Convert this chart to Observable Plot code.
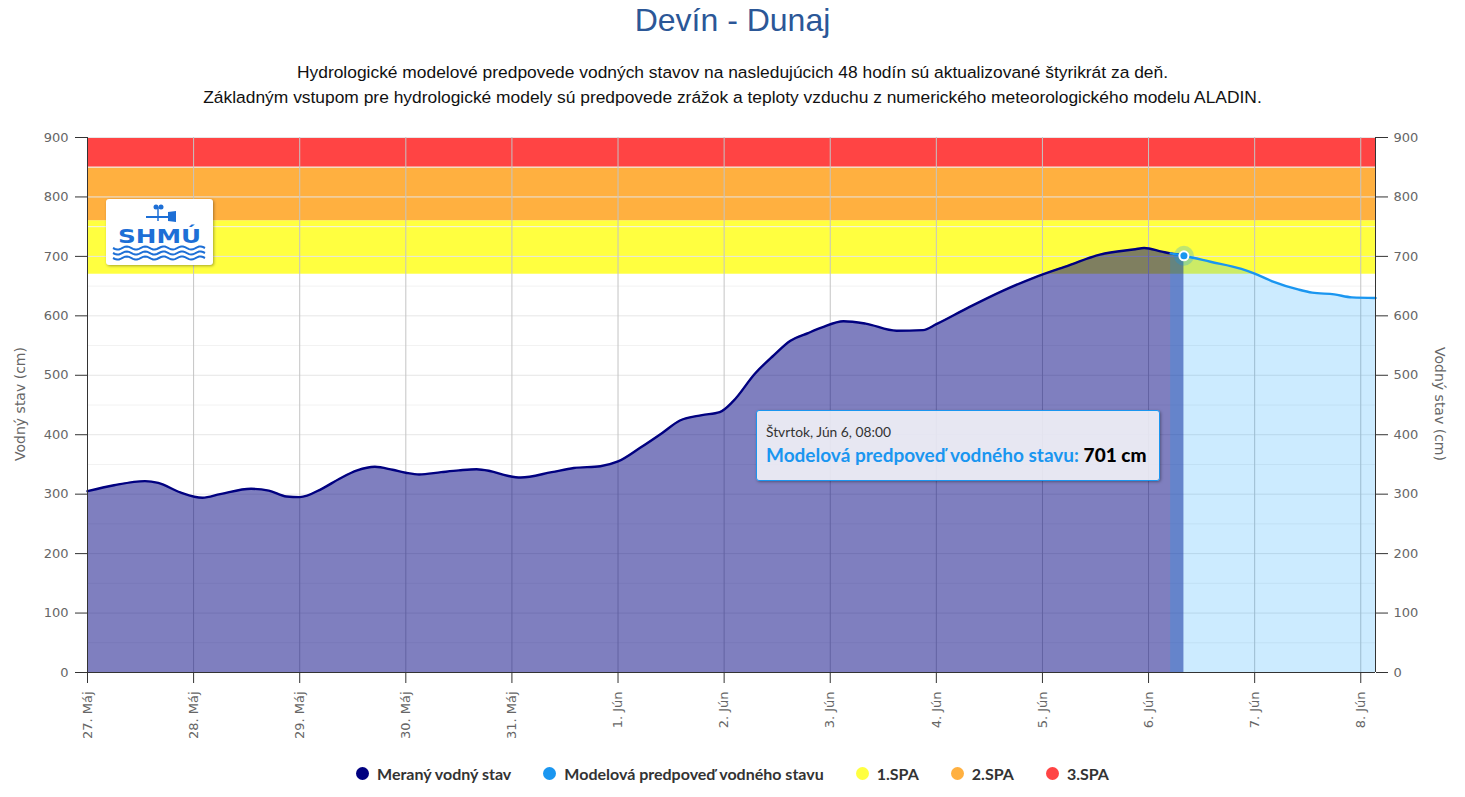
<!DOCTYPE html>
<html>
<head>
<meta charset="utf-8">
<script src="https://cdn.jsdelivr.net/npm/d3@7"></script>
<script src="https://cdn.jsdelivr.net/npm/@observablehq/plot@0.6"></script>
<style>
  html, body { margin: 0; padding: 0; background: #fff; }
  #wrap { position: relative; width: 1465px; height: 797px; overflow: hidden; }
  #title { position: absolute; left: 0; top: 0; width: 1465px; height: 40px; line-height: 40px; text-align: center;
           font-family: "Liberation Sans", Arial, sans-serif; font-size: 32px; color: #2b5797; }
  #subtitle { position: absolute; left: 0; top: 60px; width: 1465px; text-align: center; line-height: 25px;
           font-family: "Liberation Sans", Arial, sans-serif; font-size: 17.4px; color: #111; }
  #chart { position: absolute; left: 0; top: 120px; }
  #chart svg g[aria-label="x-axis tick"], #chart svg g[aria-label="y-axis tick"] { stroke: #333; }
  .ytitle { position: absolute; font-family: "DejaVu Sans", sans-serif; font-size: 14px; color: #666; white-space: nowrap; }
  #legend { position: absolute; left: 0; top: 761px; width: 1465px; height: 24px; display: flex; justify-content: center; align-items: center;
            font-family: "Lato", sans-serif; font-weight: bold; font-size: 16px; color: #333; }
  .li { display: flex; align-items: center; margin: 0 16px; }
  .sw { width: 13px; height: 13px; border-radius: 50%; margin-right: 8px; }
  #tooltip { position: absolute; left: 756px; top: 410px; width: 404px; height: 71px; box-sizing: border-box;
             background: rgba(248,248,250,0.86); border: 1px solid #1a96f0; border-radius: 3px;
             box-shadow: 1px 1px 3px rgba(0,0,0,0.35); font-family: "Lato", sans-serif; }
  #tt1 { position: absolute; left: 9px; top: 12px; font-size: 13.8px; color: #333; }
  #tt2 { position: absolute; left: 9px; top: 32px; font-size: 19px; font-weight: bold; color: #1a96f0; white-space: nowrap; }
  #tt2 b { color: #000; }
  #logo { position: absolute; left: 106px; top: 199px; width: 107px; height: 66px; background: #fff; border-radius: 3px;
          box-shadow: 1px 1px 3px rgba(0,0,0,0.35); }
</style>
</head>
<body>
<div id="wrap">
  <div id="title">Devín - Dunaj</div>
  <div id="subtitle">Hydrologické modelové predpovede vodných stavov na nasledujúcich 48 hodín sú aktualizované štyrikrát za deň.<br>Základným vstupom pre hydrologické modely sú predpovede zrážok a teploty vzduchu z numerického meteorologického modelu ALADIN.</div>
  <div id="chart"></div>
  <div class="ytitle" id="ytl" style="left:20px; top:404px; transform: translate(-50%,-50%) rotate(-90deg);">Vodný stav (cm)</div>
  <div class="ytitle" id="ytr" style="left:1440px; top:404px; transform: translate(-50%,-50%) rotate(90deg);">Vodný stav (cm)</div>
  <div id="logo"></div>
  <div id="tooltip"><div id="tt1"></div><div id="tt2"></div></div>
  <div id="legend"></div>
</div>
<script>
// ---- Data ----
const measuredTimes = [
  "2024-05-27T00:00Z","2024-05-27T06:00Z","2024-05-27T13:00Z","2024-05-27T16:00Z","2024-05-27T21:00Z",
  "2024-05-28T02:00Z","2024-05-28T06:00Z","2024-05-28T13:00Z","2024-05-28T17:00Z","2024-05-28T21:00Z",
  "2024-05-29T00:00Z","2024-05-29T05:00Z","2024-05-29T09:00Z","2024-05-29T13:00Z","2024-05-29T17:00Z","2024-05-29T21:00Z",
  "2024-05-30T00:00Z","2024-05-30T03:00Z","2024-05-30T08:00Z","2024-05-30T12:00Z","2024-05-30T16:00Z","2024-05-30T19:00Z","2024-05-30T23:00Z",
  "2024-05-31T02:00Z","2024-05-31T09:00Z","2024-05-31T14:00Z","2024-05-31T20:00Z",
  "2024-06-01T00:00Z","2024-06-01T05:00Z","2024-06-01T10:00Z","2024-06-01T14:00Z","2024-06-01T19:00Z","2024-06-01T23:00Z",
  "2024-06-02T02:00Z","2024-06-02T07:00Z","2024-06-02T11:00Z","2024-06-02T15:00Z","2024-06-02T19:00Z","2024-06-02T22:00Z",
  "2024-06-03T03:00Z","2024-06-03T08:00Z","2024-06-03T15:00Z","2024-06-03T21:00Z",
  "2024-06-04T00:00Z","2024-06-04T07:00Z","2024-06-04T15:00Z","2024-06-04T22:00Z",
  "2024-06-05T06:00Z","2024-06-05T13:00Z","2024-06-05T21:00Z","2024-06-05T23:00Z",
  "2024-06-06T03:00Z","2024-06-06T05:00Z","2024-06-06T08:00Z"
];
const measuredValues = [
  305,315,322,319,303,
  294,300,309,306,296,
  295,309,326,340,346,341,
  336,333,337,340,342,339,331,
  328,337,344,347,
  355,378,403,424,433,438,
  456,503,532,558,571,580,
  591,587,575,576,
  586,613,642,664,
  685,703,712,714,
  708,705,702
];
const forecastTimes = [
  "2024-06-06T05:00Z","2024-06-06T08:00Z","2024-06-06T14:00Z","2024-06-06T21:00Z",
  "2024-06-07T00:00Z","2024-06-07T04:00Z","2024-06-07T10:00Z","2024-06-07T13:00Z","2024-06-07T18:00Z","2024-06-07T22:00Z",
  "2024-06-08T03:20Z"
];
const forecastValues = [705,701,691,679,671,658,644,639,636,631,630];

const spaNames = ["1.SPA","2.SPA","3.SPA"];
const spaLow = [670,760,850];
const spaHigh = [760,850,900];
const spaColors = ["#ffff40","#ffb040","#ff4444"];

const seriesNames = ["Meraný vodný stav","Modelová predpoveď vodného stavu"];
const seriesColors = ["#000080","#1a96f0"];

const tickTimes = ["2024-05-27","2024-05-28","2024-05-29","2024-05-30","2024-05-31","2024-06-01",
  "2024-06-02","2024-06-03","2024-06-04","2024-06-05","2024-06-06","2024-06-07","2024-06-08"];
const tickLabels = ["27. Máj","28. Máj","29. Máj","30. Máj","31. Máj","1. Jún","2. Jún","3. Jún","4. Jún","5. Jún","6. Jún","7. Jún","8. Jún"];
const yTicks = [0,100,200,300,400,500,600,700,800,900];
const yMinor = [50,150,250,350,450,550,650,750,850];

const tooltipTime = "2024-06-06T08:00Z";
const tooltipDate = "Štvrtok, Jún 6, 08:00";
const tooltipValue = 701;

// ---- Build tables ----
const xDomain = [new Date("2024-05-27T00:00Z"), new Date("2024-06-08T03:20Z")];
const measured = measuredTimes.map((t,i)=>({t:new Date(t), v:measuredValues[i]}));
const forecast = forecastTimes.map((t,i)=>({t:new Date(t), v:forecastValues[i]}));
const bands = spaNames.map((n,i)=>({name:n, lo:spaLow[i], hi:spaHigh[i], color:spaColors[i]}));
const tickDates = tickTimes.map(t=>new Date(t+"T00:00Z"));
const hover = forecast.filter(d => +d.t === +new Date(tooltipTime));

const chart = Plot.plot({
  width: 1465,
  height: 635,
  marginTop: 17,
  marginBottom: 83,
  marginLeft: 87,
  marginRight: 90,
  style: {fontFamily: "DejaVu Sans, sans-serif", fontSize: "13px", color: "#666", background: "transparent", overflow: "visible"},
  x: {type: "utc", domain: xDomain},
  y: {domain: [0, 900]},
  color: {type: "identity"},
  marks: [
    Plot.rect(bands, {x1: () => xDomain[0], x2: () => xDomain[1], y1: "lo", y2: "hi", fill: "color"}),
    Plot.ruleY(yMinor, {stroke: "#f2f2f2"}),
    Plot.ruleY(yTicks, {stroke: "#e6e6e6"}),
    Plot.ruleX(tickDates, {stroke: "#c4c4c4"}),
    Plot.areaY(measured, {x: "t", y: "v", fill: seriesColors[0], fillOpacity: 0.5, curve: "monotone-x"}),
    Plot.areaY(forecast, {x: "t", y: "v", fill: "#0099ff", fillOpacity: 0.2, curve: "monotone-x"}),
    Plot.lineY(measured, {x: "t", y: "v", stroke: seriesColors[0], strokeWidth: 2.4, curve: "monotone-x"}),
    Plot.lineY(forecast, {x: "t", y: "v", stroke: seriesColors[1], strokeWidth: 2.4, curve: "monotone-x"}),
    Plot.ruleY([0], {stroke: "#333"}),
    Plot.ruleX(xDomain, {stroke: "#333"}),
    Plot.dot(hover, {x: "t", y: "v", r: 10, fill: "#0099ff", fillOpacity: 0.25}),
    Plot.dot(hover, {x: "t", y: "v", r: 4.5, fill: seriesColors[1], stroke: "white", strokeWidth: 2}),
    Plot.axisY({anchor: "left", ticks: yTicks, tickSize: 12, tickPadding: 7, label: null}),
    Plot.axisY({anchor: "right", ticks: yTicks, tickSize: 12, tickPadding: 6, label: null}),
    Plot.axisX({ticks: tickDates, tickSize: 11, tickPadding: 8, tickRotate: -90, label: null,
      tickFormat: d => tickLabels[tickDates.findIndex(t => +t === +d)]})
  ]
});
document.getElementById("chart").appendChild(chart);

// tooltip
document.getElementById("tt1").textContent = tooltipDate;
document.getElementById("tt2").innerHTML = seriesNames[1] + ": <b>" + tooltipValue + " cm</b>";

// legend
const legendItems = seriesNames.map((n,i)=>({n, c: seriesColors[i]})).concat(bands.map(b=>({n:b.name, c:b.color})));
const leg = document.getElementById("legend");
legendItems.forEach(it => {
  const d = document.createElement("div"); d.className = "li";
  d.innerHTML = `<span class="sw" style="background:${it.c}"></span><span>${it.n}</span>`;
  leg.appendChild(d);
});

// logo (decoration)
(function(){
  const blue = "#1d6fd6";
  let waves = "";
  for (let k = 0; k < 3; k++) {
    let p = "";
    for (let x = 0; x <= 92; x += 2) {
      const y = 49 + k * 5 + 1.6 * Math.sin(x / 92 * Math.PI * 2 * 5);
      p += (x === 0 ? "M" : "L") + (7 + x) + "," + y.toFixed(2);
    }
    waves += `<path d="${p}" fill="none" stroke="${blue}" stroke-width="2"/>`;
  }
  document.getElementById("logo").innerHTML =
    `<svg width="107" height="66" viewBox="0 0 107 66">
      <line x1="40" y1="18" x2="68" y2="18" stroke="${blue}" stroke-width="2"/>
      <line x1="52" y1="8" x2="52" y2="22" stroke="${blue}" stroke-width="1.5"/>
      <circle cx="50" cy="8" r="2.5" fill="${blue}"/><circle cx="55" cy="8" r="2.5" fill="${blue}"/>
      <path d="M62,13 L70,12 L70,23 L62,22 Z" fill="${blue}"/>
      <text x="53.5" y="44" text-anchor="middle" font-family="DejaVu Sans" font-weight="bold" font-size="19" fill="${blue}"
        transform="translate(53.5,0) scale(1.3,1) translate(-53.5,0)">SHMÚ</text>
      ${waves}
    </svg>`;
})();
</script>
</body>
</html>
